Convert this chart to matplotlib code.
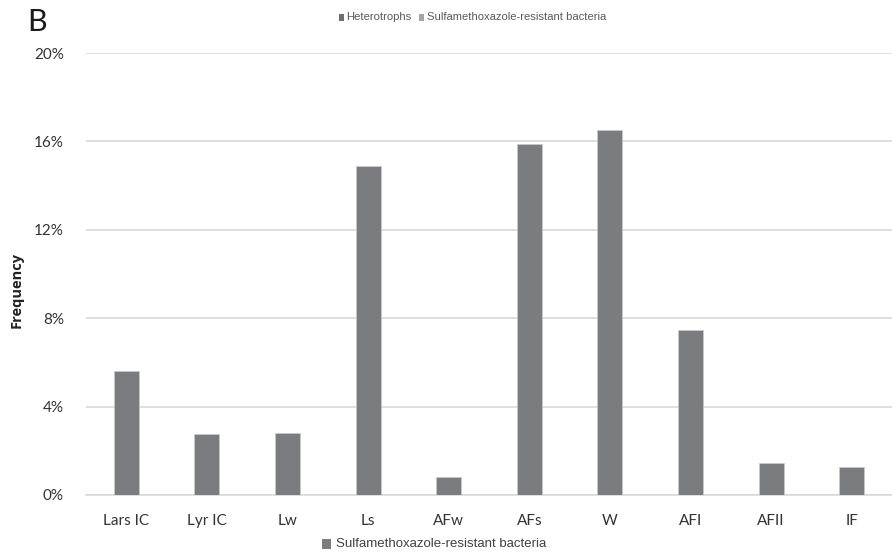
import matplotlib
matplotlib.use("Agg")
import matplotlib.pyplot as plt
from matplotlib.patches import Rectangle
from matplotlib.ticker import FuncFormatter

categories = ["Lars IC", "Lyr IC", "Lw", "Ls", "AFw", "AFs", "W", "AFI", "AFII", "IF"]
values = [5.6, 2.74, 2.8, 14.9, 0.8, 15.88, 16.5, 7.48, 1.46, 1.25]
yticks = [0, 4, 8, 12, 16, 20]

bar_color = "#7b7c80"
grid_color = "#d9d9d9"

fig = plt.figure(figsize=(8.92, 5.53), dpi=100)
ax = fig.add_axes([86/892, 1 - 495/553, (892-86)/892, (495-53)/553])

x = list(range(len(categories)))
ax.bar(x, values, width=0.31, color=bar_color, edgecolor="#c8c8ca", linewidth=0.6, zorder=3)
ax.set_xlim(-0.5, len(categories) - 0.5)
ax.set_ylim(0, 20)
ax.set_yticks(yticks)
ax.yaxis.set_major_formatter(FuncFormatter(lambda v, p: f"{int(v)}%"))
ax.set_xticks(x)
ax.set_xticklabels(categories)
ax.grid(axis="y", color=grid_color, linewidth=1.2, zorder=0)
for s in ["top", "right", "left"]:
    ax.spines[s].set_visible(False)
ax.spines["bottom"].set_color(grid_color)
ax.spines["bottom"].set_linewidth(1.2)
ax.tick_params(axis="both", length=0, labelsize=11, colors="#404040")
ax.tick_params(axis="y", pad=16)
ax.tick_params(axis="x", pad=14)
for lab in ax.get_xticklabels() + ax.get_yticklabels():
    lab.set_family("Lato")
    lab.set_color("#333333")

fig.text(17/892, 1 - 290/553, "Frequency", rotation=90, ha="center", va="center",
         fontsize=10.5, fontweight="bold", family="Open Sans", color="#222222")
fig.text(27/892, 1 - 22/553, "B", ha="left", va="center", fontsize=22, family="Lato",
         color="#1a1a1a")

# top legend
fig.patches.append(Rectangle((339/892, 1 - 21/553), 5/892, 7/553, transform=fig.transFigure,
                             facecolor="#6f6f72", edgecolor="none"))
fig.text(346/892, 1 - 16.5/553, "Heterotrophs", ha="left", va="center", fontsize=8.1,
         family="Liberation Sans", color="#595959")
fig.patches.append(Rectangle((419/892, 1 - 21/553), 5/892, 7/553, transform=fig.transFigure,
                             facecolor="#a6a6a6", edgecolor="none"))
fig.text(427/892, 1 - 16.5/553, "Sulfamethoxazole-resistant bacteria", ha="left", va="center",
         fontsize=8.1, family="Liberation Sans", color="#595959")

# bottom legend
fig.patches.append(Rectangle((322/892, 1 - 549/553), 9/892, 10/553, transform=fig.transFigure,
                             facecolor=bar_color, edgecolor="none"))
fig.text(336/892, 1 - 544/553, "Sulfamethoxazole-resistant bacteria", ha="left", va="center",
         fontsize=9.5, family="Liberation Sans", color="#404040")

fig.savefig("out.png", dpi=100, facecolor="white")
